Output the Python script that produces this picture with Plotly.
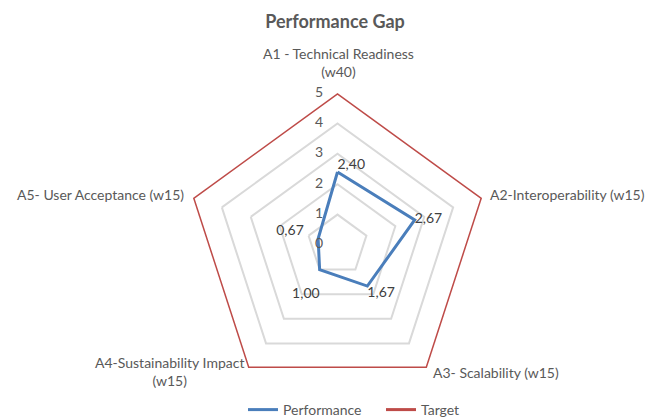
import plotly.graph_objects as go

categories = [
    "A1 - Technical Readiness<br>(w40)",
    "A2-Interoperability (w15)",
    "A3- Scalability (w15)",
    "A4-Sustainability Impact<br>(w15)",
    "A5- User Acceptance (w15)",
]
performance = [2.40, 2.67, 1.67, 1.00, 0.67]
target = [5, 5, 5, 5, 5]
radial_ticks = [0, 1, 2, 3, 4, 5]

FONT = "Lato"
GREY = "#595959"
FS = 14
NBSP = "\u00a0"

W, H = 653, 419
cx, cy, R = 337.5, 245, 152  # radar centre and outer radius, in pixels

theta = categories + [categories[0]]


def fmt(v):
    return f"{v:.2f}".replace(".", ",")


# per-point label placement around the performance polygon
label_pos = ["top right", "middle right", "bottom right", "bottom left", "top left"]
label_pre = ["", "", "", "<br>", ""]
label_post = ["", "", "", "", NBSP * 4]
perf_text = [p + fmt(v) + s for v, p, s in zip(performance, label_pre, label_post)]

fig = go.Figure()
fig.add_trace(go.Scatterpolar(
    r=performance + [performance[0]],
    theta=theta,
    mode="lines+text",
    name="Performance",
    line=dict(color="#4A7EBB", width=3),
    text=perf_text + [""],
    textposition=label_pos + ["top right"],
    textfont=dict(family=FONT, size=FS, color="#404040"),
    cliponaxis=False,
))
fig.add_trace(go.Scatterpolar(
    r=target + [target[0]],
    theta=theta,
    mode="lines",
    name="Target",
    line=dict(color="#BE4B48", width=3),
))
# radial scale labels, set just left of the first spoke
# (the centre label is nudged off the exact origin so plotly keeps it visible)
tick_r = [t if t > 0 else 0.01 for t in radial_ticks]
fig.add_trace(go.Scatterpolar(
    r=tick_r,
    theta=[categories[0]] * len(radial_ticks),
    mode="text",
    text=[f"{t}{NBSP * 4}" for t in radial_ticks],
    textposition="middle left",
    textfont=dict(family=FONT, size=FS, color=GREY),
    showlegend=False,
    hoverinfo="skip",
    cliponaxis=False,
))

# category captions placed around the outer pentagon (pixel anchor, xanchor, yanchor)
caption_layout = [
    (338, 82, "center", "bottom"),
    (488, 194, "left", "middle"),
    (431, 372, "left", "middle"),
    (246, 371, "right", "middle"),
    (186, 194, "right", "middle"),
]
annotations = []
for name, (px, py, xa, ya) in zip(categories, caption_layout):
    annotations.append(dict(
        text=name, x=px / W, y=1 - py / H, xref="paper", yref="paper",
        xanchor=xa, yanchor=ya, align="center", showarrow=False,
        font=dict(family=FONT, size=FS, color=GREY),
    ))

fig.update_layout(
    width=W, height=H,
    margin=dict(l=0, r=0, t=0, b=0, autoexpand=False),
    paper_bgcolor="white",
    plot_bgcolor="white",
    font=dict(family=FONT, size=FS, color=GREY),
    title=dict(
        text="<b>Performance Gap</b>",
        x=335 / W, xanchor="center",
        y=1 - 22 / H, yanchor="middle",
        font=dict(family=FONT, size=18, color=GREY),
    ),
    annotations=annotations,
    polar=dict(
        domain=dict(x=[(cx - R) / W, (cx + R) / W], y=[(H - cy - R) / H, (H - cy + R) / H]),
        gridshape="linear",
        bgcolor="white",
        radialaxis=dict(
            range=[0, 5],
            tickvals=radial_ticks,
            showticklabels=False,
            angle=90,
            showline=False,
            ticks="",
            gridcolor="#D9D9D9",
            gridwidth=1.5,
        ),
        angularaxis=dict(
            rotation=90,
            direction="clockwise",
            showgrid=False,
            showline=False,
            showticklabels=False,
            ticks="",
        ),
    ),
    legend=dict(
        orientation="h",
        x=243 / W, xanchor="left",
        y=9 / H, yanchor="middle",
        entrywidth=93,
        bgcolor="rgba(0,0,0,0)",
        font=dict(family=FONT, size=FS, color=GREY),
    ),
)

fig.write_html("out.html")
